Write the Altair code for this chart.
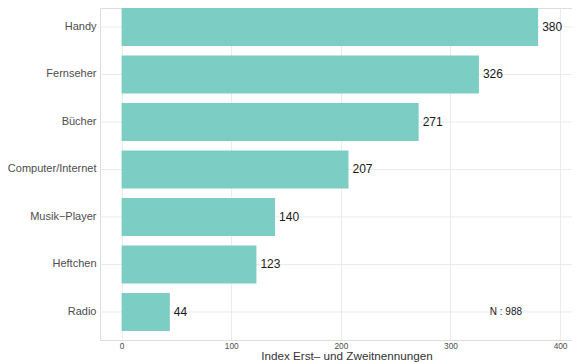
import altair as alt
import pandas as pd

categories = ["Handy", "Fernseher", "Bücher", "Computer/Internet", "Musik−Player", "Heftchen", "Radio"]
values = [380, 326, 271, 207, 140, 123, 44]
x_ticks = [0, 100, 200, 300, 400]
note_text = "N : 988"

df = pd.DataFrame({"cat": categories, "val": values})

FONT = "Liberation Sans"
BAR = "#7ccdc3"
GRID = "#ebebeb"

y_enc = alt.Y(
    "cat:N",
    sort=categories,
    title=None,
    scale=alt.Scale(paddingInner=0.2, paddingOuter=0.095, align=0),
    axis=alt.Axis(ticks=False, domain=False, grid=False, labelFontSize=11,
                  labelColor="#4d4d4d", labelPadding=4, labelFont=FONT),
)

x_scale = alt.Scale(domain=[-19.7, 410.9], nice=False, zero=False)
x_axis = alt.Axis(values=x_ticks, grid=True, gridColor=GRID, gridWidth=1,
                  ticks=False, domain=False, labelFontSize=8.3, labelColor="#4d4d4d",
                  labelPadding=1.5, labelFont=FONT,
                  title="Index Erst– und Zweitnennungen", titleFontSize=11.7,
                  titleFontWeight="normal", titleColor="#333333", titleFont=FONT,
                  titleX=246.5, titleY=19, titleBaseline="alphabetic", titleAnchor="middle")

base = alt.Chart(df)

hgrid = base.mark_rule(color=GRID, strokeWidth=1).encode(y=y_enc)

bars = base.mark_bar(color=BAR).encode(
    y=y_enc,
    x=alt.X("val:Q", scale=x_scale, axis=x_axis),
    x2=alt.datum(0),
)

labels = base.mark_text(align="left", baseline="middle", dx=4, fontSize=12,
                        color="#1a1a1a", font=FONT).encode(
    y=y_enc,
    x=alt.X("val:Q", scale=x_scale),
    text=alt.Text("val:Q"),
)

note = alt.Chart(pd.DataFrame({"cat": ["Radio"], "x": [350.6], "t": [note_text]})).mark_text(
    align="center", baseline="middle", fontSize=10, color="#1a1a1a", font=FONT
).encode(
    y=y_enc,
    x=alt.X("x:Q", scale=x_scale),
    text="t:N",
)

chart = alt.layer(hgrid, bars, labels, note).properties(
    width=472, height=332,
    autosize=alt.AutoSizeParams(type="none"),
    padding={"left": 92, "top": 0, "right": 0, "bottom": 22},
).configure_view(stroke=None).configure(font=FONT)

chart.save("out.html", embed_options={"renderer": "svg", "actions": False})
